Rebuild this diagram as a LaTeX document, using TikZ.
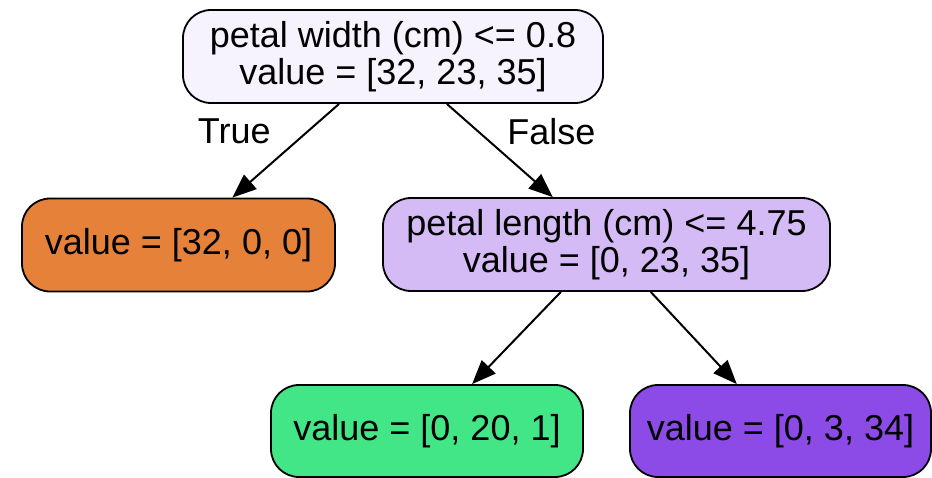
\documentclass[tikz,border=0pt]{standalone}
\usepackage{fontspec}
\setmainfont{Liberation Sans}
\usetikzlibrary{arrows.meta,positioning}
\definecolor{rootfill}{HTML}{F7F3FE}
\definecolor{setosa}{HTML}{E58139}
\definecolor{splitfill}{HTML}{D4BBF6}
\definecolor{versicolor}{HTML}{43E687}
\definecolor{virginica}{HTML}{8C4AE7}
\tikzset{tree node/.style={rectangle,rounded corners=28pt,draw,line width=1.8pt,inner sep=0pt,minimum height=93pt,align=center,font=\fontsize{36}{37}\selectfont},}
\tikzset{edge label/.style={inner sep=0pt,font=\fontsize{36}{37}\selectfont},}

\begin{document}
\begin{tikzpicture}[x=1pt,y=1pt,>={Triangle[length=24pt,width=19pt]}]
    \useasboundingbox (0,0) rectangle (932,-478);
    \node[tree node,fill=rootfill,minimum width=420pt] (root) at (393,-56.5) {petal width (cm) <= 0.8\\value = [32, 23, 35]};
    \node[tree node,fill=setosa,minimum width=313pt] (leafA) at (178.5,-245) {value = [32, 0, 0]};
    \node[tree node,fill=splitfill,minimum width=447pt] (split) at (606.5,-244.5) {petal length (cm) <= 4.75\\value = [0, 23, 35]};
    \node[tree node,fill=versicolor,minimum width=312pt,minimum height=92pt] (leafB) at (427,-431) {value = [0, 20, 1]};
    \node[tree node,fill=virginica,minimum width=301pt,minimum height=92pt] (leafC) at (780.5,-431) {value = [0, 3, 34]};

    \path[->,line width=2pt] (root) edge node[edge label,pos=0.295,left=36pt] {True} (leafA);
    \path[->,line width=2pt] (root) edge node[edge label,pos=0.298,right=28pt] {False} (split);
    \path[->,line width=2pt] (split) edge (leafB);
    \path[->,line width=2pt] (split) edge (leafC);
\end{tikzpicture}
\end{document}
